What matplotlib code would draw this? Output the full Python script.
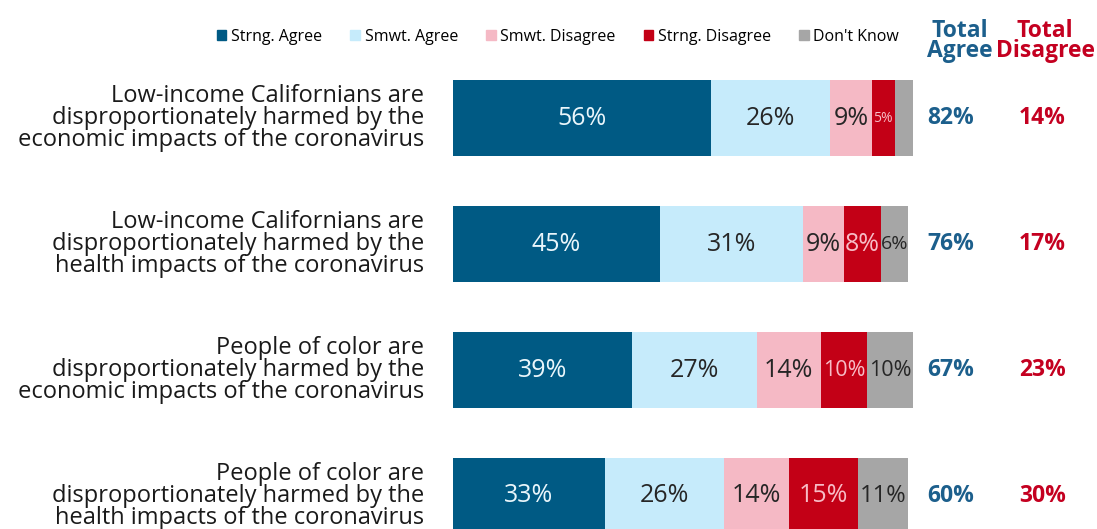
import numpy as np
import matplotlib.pyplot as plt
from matplotlib.patches import Patch

plt.rcParams['font.family'] = ['Open Sans', 'DejaVu Sans']

statements = ['Low-income Californians are\ndisproportionately harmed by the\neconomic impacts of the coronavirus',
              'Low-income Californians are\ndisproportionately harmed by the\nhealth impacts of the coronavirus',
              'People of color are\ndisproportionately harmed by the\neconomic impacts of the coronavirus',
              'People of color are\ndisproportionately harmed by the\nhealth impacts of the coronavirus']
series = ['Strng. Agree', 'Smwt. Agree', 'Smwt. Disagree', 'Strng. Disagree', "Don't Know"]
strng_agree = [56, 45, 39, 33]
smwt_agree = [26, 31, 27, 26]
smwt_disagree = [9, 9, 14, 14]
strng_disagree = [5, 8, 10, 15]
dont_know = [4, 6, 10, 11]
dk_labels = ['', '6%', '10%', '11%']
total_agree = [82, 76, 67, 60]
total_disagree = [14, 17, 23, 30]

colors = ['#005a84', '#c6ebfb', '#f5b9c5', '#c30016', '#a6a6a6']
text_colors = ['#eaf6fb', '#262626', '#262626', '#f7bcc6', '#262626']
# label sizes, small where the segment is narrow
label_sizes = [[18, 18, 18, 10, 18],
               [18, 18, 18, 18, 14],
               [18, 18, 18, 15.5, 15.5],
               [18, 18, 18, 18, 17]]

fig = plt.figure(figsize=(10.97, 5.29), dpi=100)
ax = fig.add_axes([453 / 1097, 0, 460 / 1097, 1])

data = [strng_agree, smwt_agree, smwt_disagree, strng_disagree, dont_know]
y = np.arange(len(statements))
left = np.zeros(len(statements))
for k, vals in enumerate(data):
    vals = np.array(vals)
    ax.barh(y, vals, left=left, height=0.61, color=colors[k], label=series[k])
    for i, v in enumerate(vals):
        if k == 4:
            lab = dk_labels[i]
        else:
            lab = f'{v}%'
        if lab == '':
            continue
        ax.text(left[i] + v / 2, y[i], lab, ha='center', va='center',
                fontsize=label_sizes[i][k], color=text_colors[k])
    left += vals

ax.set_xlim(0, 100)
ax.set_ylim(3.262, -0.937)
ax.axis('off')

for i in range(len(statements)):
    ax.text(-6.2, y[i], statements[i], ha='right', va='center', fontsize=17,
            color='#1a1a1a', linespacing=0.87)
    ax.text(108.2, y[i], f'{total_agree[i]}%', ha='center', va='center', fontsize=16.5,
            fontweight='bold', color='#1c5f8c')
    ax.text(128.1, y[i], f'{total_disagree[i]}%', ha='center', va='center', fontsize=16.5,
            fontweight='bold', color='#c40020')

fig.text(960 / 1097, 1 - 41 / 529, 'Total\nAgree', ha='center', va='center', fontsize=16.5,
         fontweight='bold', color='#1c5f8c', linespacing=0.8)
fig.text(1045 / 1097, 1 - 41 / 529, 'Total\nDisagree', ha='center', va='center', fontsize=16.5,
         fontweight='bold', color='#c40020', linespacing=0.8)

handles = [Patch(color=c) for c in colors]
fig.legend(handles, series, loc='center', bbox_to_anchor=(558 / 1097, 1 - 37 / 529), ncol=5,
           frameon=False, fontsize=11.5, handlelength=0.6, handleheight=0.6, handletextpad=0.3,
           columnspacing=1.75)

fig.savefig('out.png', dpi=100)
